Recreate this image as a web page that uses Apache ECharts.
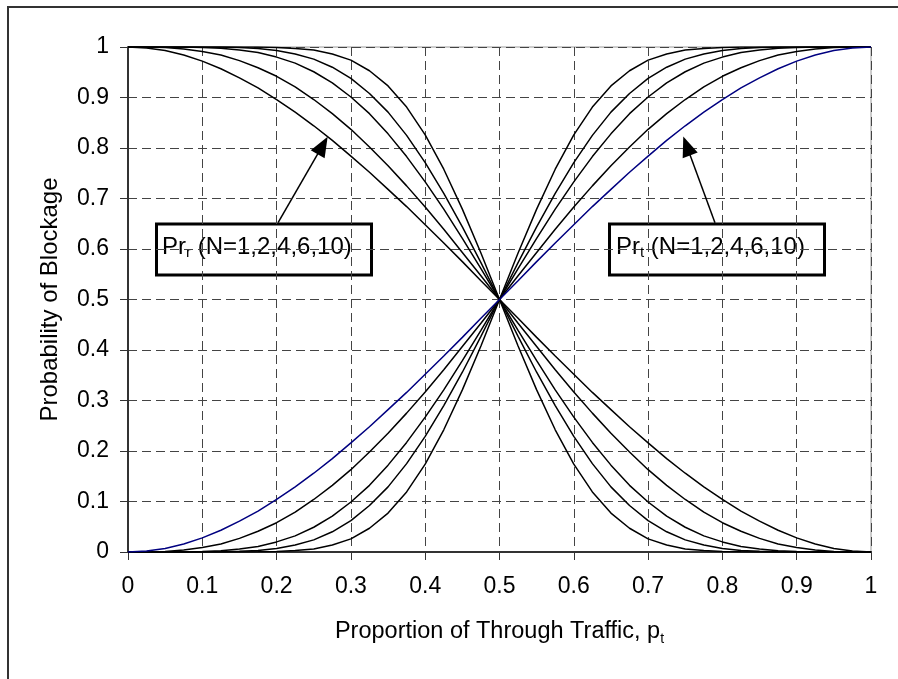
<!DOCTYPE html>
<html lang="en">
<head>
	<meta charset="UTF-8">
	<title>Probability of Blockage</title>
	<style>
		html, body { margin: 0; padding: 0; background: #fff; }
		#main { width: 898px; height: 679px; }
	</style>
	<script src="https://cdn.jsdelivr.net/npm/echarts@6/dist/echarts.min.js"></script>
</head>
<body>
	<div id="main"></div>
	<script>
		// proportion of through traffic p_t
		var xVals = [0, 0.025, 0.05, 0.075, 0.1, 0.125, 0.15, 0.175, 0.2, 0.225,
			0.25, 0.275, 0.3, 0.325, 0.35, 0.375, 0.4, 0.425, 0.45, 0.475,
			0.5, 0.525, 0.55, 0.575, 0.6, 0.625, 0.65, 0.675, 0.7, 0.725,
			0.75, 0.775, 0.8, 0.825, 0.85, 0.875, 0.9, 0.925, 0.95, 0.975, 1];

		// Pr_t, rising curves (N = 1, 2, 4, 6, 10)
		var prT1 = [0, 0.002, 0.007, 0.016, 0.028, 0.043, 0.061, 0.081, 0.104, 0.129,
			0.156, 0.185, 0.216, 0.248, 0.282, 0.316, 0.352, 0.388, 0.425, 0.463,
			0.5, 0.537, 0.575, 0.612, 0.648, 0.684, 0.718, 0.752, 0.784, 0.815,
			0.844, 0.871, 0.896, 0.919, 0.939, 0.957, 0.972, 0.984, 0.993, 0.998, 1];
		var prT2 = [0, 0.0002, 0.001, 0.004, 0.009, 0.016, 0.027, 0.041, 0.058, 0.079,
			0.104, 0.132, 0.163, 0.198, 0.235, 0.275, 0.317, 0.361, 0.407, 0.453,
			0.5, 0.547, 0.593, 0.639, 0.683, 0.725, 0.765, 0.802, 0.837, 0.868,
			0.896, 0.921, 0.942, 0.959, 0.973, 0.984, 0.991, 0.996, 0.999, 0.9998, 1];
		var prT4 = [0, 0, 0, 0.0002, 0.001, 0.0025, 0.006, 0.011, 0.020, 0.032,
			0.049, 0.071, 0.099, 0.132, 0.172, 0.217, 0.267, 0.321, 0.379, 0.439,
			0.5, 0.561, 0.621, 0.679, 0.733, 0.783, 0.828, 0.868, 0.901, 0.929,
			0.951, 0.968, 0.980, 0.989, 0.994, 0.9975, 0.999, 0.9998, 1, 1, 1];
		var prT6 = [0, 0, 0, 0, 0.0001, 0.0004, 0.0013, 0.003, 0.007, 0.014,
			0.024, 0.040, 0.062, 0.092, 0.129, 0.175, 0.229, 0.290, 0.356, 0.427,
			0.5, 0.573, 0.644, 0.710, 0.771, 0.825, 0.871, 0.908, 0.938, 0.960,
			0.976, 0.986, 0.993, 0.997, 0.999, 1, 1, 1, 1, 1, 1];
		var prT10 = [0, 0, 0, 0, 0, 0, 0, 0.0003, 0.001, 0.003,
			0.006, 0.014, 0.026, 0.047, 0.077, 0.119, 0.174, 0.242, 0.321, 0.408,
			0.5, 0.592, 0.679, 0.758, 0.826, 0.881, 0.923, 0.953, 0.974, 0.986,
			0.994, 0.997, 0.999, 1, 1, 1, 1, 1, 1, 1, 1];

		// Pr_r, falling curves (N = 1, 2, 4, 6, 10)
		var prR1 = [1, 0.998, 0.993, 0.984, 0.972, 0.957, 0.939, 0.919, 0.896, 0.871,
			0.844, 0.815, 0.784, 0.752, 0.718, 0.684, 0.648, 0.612, 0.575, 0.537,
			0.5, 0.463, 0.425, 0.388, 0.352, 0.316, 0.282, 0.248, 0.216, 0.185,
			0.156, 0.129, 0.104, 0.081, 0.061, 0.043, 0.028, 0.016, 0.007, 0.002, 0];
		var prR2 = [1, 0.9998, 0.999, 0.996, 0.991, 0.984, 0.973, 0.959, 0.942, 0.921,
			0.896, 0.868, 0.837, 0.802, 0.765, 0.725, 0.683, 0.639, 0.593, 0.547,
			0.5, 0.453, 0.407, 0.361, 0.317, 0.275, 0.235, 0.198, 0.163, 0.132,
			0.104, 0.079, 0.058, 0.041, 0.027, 0.016, 0.009, 0.004, 0.001, 0.0002, 0];
		var prR4 = [1, 1, 1, 0.9998, 0.999, 0.9975, 0.994, 0.989, 0.980, 0.968,
			0.951, 0.929, 0.901, 0.868, 0.828, 0.783, 0.733, 0.679, 0.621, 0.561,
			0.5, 0.439, 0.379, 0.321, 0.267, 0.217, 0.172, 0.132, 0.099, 0.071,
			0.049, 0.032, 0.020, 0.011, 0.006, 0.0025, 0.001, 0.0002, 0, 0, 0];
		var prR6 = [1, 1, 1, 1, 1, 1, 0.999, 0.997, 0.993, 0.986,
			0.976, 0.960, 0.938, 0.908, 0.871, 0.825, 0.771, 0.710, 0.644, 0.573,
			0.5, 0.427, 0.356, 0.290, 0.229, 0.175, 0.129, 0.092, 0.062, 0.040,
			0.024, 0.014, 0.007, 0.003, 0.0013, 0.0004, 0.0001, 0, 0, 0, 0];
		var prR10 = [1, 1, 1, 1, 1, 1, 1, 1, 0.999, 0.997,
			0.994, 0.986, 0.974, 0.953, 0.923, 0.881, 0.826, 0.758, 0.679, 0.592,
			0.5, 0.408, 0.321, 0.242, 0.174, 0.119, 0.077, 0.047, 0.026, 0.014,
			0.006, 0.003, 0.001, 0.0003, 0, 0, 0, 0, 0, 0, 0];

		// callout arrows [from, to] in data units
		var arrowR = [[0.202, 0.652], [0.262, 0.805]];
		var arrowT = [[0.790, 0.652], [0.752, 0.804]];

		var FONT = 'Arial, "Liberation Sans", sans-serif';

		function pairs(ys) {
			return xVals.map(function (x, i) { return [x, ys[i]]; });
		}

		function curve(name, ys, color) {
			return {
				name: name,
				type: 'line',
				data: pairs(ys),
				showSymbol: false,
				symbol: 'none',
				smooth: false,
				silent: true,
				lineStyle: { color: color, width: 1.5 },
				z: 3
			};
		}

		var myChart = echarts.init(document.getElementById('main'), null, { renderer: 'canvas' });

		var series = [
			curve('Pr_r N=1', prR1, '#000'),
			curve('Pr_r N=2', prR2, '#000'),
			curve('Pr_r N=4', prR4, '#000'),
			curve('Pr_r N=6', prR6, '#000'),
			curve('Pr_r N=10', prR10, '#000'),
			curve('Pr_t N=2', prT2, '#000'),
			curve('Pr_t N=4', prT4, '#000'),
			curve('Pr_t N=6', prT6, '#000'),
			curve('Pr_t N=10', prT10, '#000'),
			curve('Pr_t N=1', prT1, '#000080')
		];

		// callout arrows
		series[4].markLine = {
			silent: true,
			animation: false,
			symbol: ['none', 'triangle'],
			symbolSize: [16, 20],
			label: { show: false },
			lineStyle: { color: '#000', width: 1.5, type: 'solid' },
			data: [
				[{ coord: arrowR[0] }, { coord: arrowR[1] }],
				[{ coord: arrowT[0] }, { coord: arrowT[1] }]
			]
		};

		var option = {
			backgroundColor: '#fff',
			animation: false,
			grid: {
				left: 128, right: 27, top: 47, bottom: 127,
				show: true, borderColor: '#9a9a9a', borderWidth: 1
			},
			xAxis: {
				type: 'value',
				min: 0, max: 1, interval: 0.1,
				name: '{m|Proportion of Through Traffic, p}{s|t}',
				nameLocation: 'middle',
				nameGap: 66,
				nameTextStyle: {
					rich: {
						m: { fontFamily: FONT, fontSize: 23.5, color: '#000' },
						s: { fontFamily: FONT, fontSize: 14, color: '#000', padding: [14, 0, 0, 0] }
					}
				},
				axisLine: { show: true, onZero: false, lineStyle: { color: '#333', width: 2 } },
				axisTick: { show: true, inside: false, length: 8, lineStyle: { color: '#333', width: 1 } },
				axisLabel: { margin: 23, fontFamily: FONT, fontSize: 23, color: '#000' },
				splitLine: { show: true, lineStyle: { color: '#444', width: 1, type: [9, 5] } }
			},
			yAxis: {
				type: 'value',
				min: 0, max: 1, interval: 0.1,
				name: 'Probability of Blockage',
				nameLocation: 'middle',
				nameGap: 66,
				nameTextStyle: { fontFamily: FONT, fontSize: 24, color: '#000' },
				axisLine: { show: true, onZero: false, lineStyle: { color: '#333', width: 2 } },
				axisTick: { show: true, inside: false, length: 8, lineStyle: { color: '#333', width: 1 } },
				axisLabel: { margin: 19, fontFamily: FONT, fontSize: 23, color: '#000' },
				splitLine: { show: true, lineStyle: { color: '#444', width: 1, type: [9, 5] } }
			},
			graphic: [
				{
					// outer chart frame, cropped on the right and bottom
					type: 'rect',
					shape: { x: 8, y: 7, width: 1000, height: 1000 },
					style: { fill: 'none', stroke: '#333', lineWidth: 2 },
					silent: true, z: 10
				},
				{
					type: 'group', z: 20,
					children: [
						{
							type: 'rect',
							shape: { x: 156.5, y: 224, width: 215, height: 51 },
							style: { fill: '#fff', stroke: '#000', lineWidth: 3 }
						},
						{
							type: 'text',
							style: {
								x: 162, y: 247,
								text: '{m|Pr}{s|r}{m| (N=1,2,4,6,10)}',
								verticalAlign: 'middle',
								rich: {
									m: { fontFamily: FONT, fontSize: 24, fill: '#000' },
									s: { fontFamily: FONT, fontSize: 15, fill: '#000', padding: [12, 0, 0, 0] }
								}
							}
						}
					]
				},
				{
					type: 'group', z: 20,
					children: [
						{
							type: 'rect',
							shape: { x: 609.5, y: 224, width: 215, height: 51 },
							style: { fill: '#fff', stroke: '#000', lineWidth: 3 }
						},
						{
							type: 'text',
							style: {
								x: 616, y: 247,
								text: '{m|Pr}{s|t}{m| (N=1,2,4,6,10)}',
								verticalAlign: 'middle',
								rich: {
									m: { fontFamily: FONT, fontSize: 24, fill: '#000' },
									s: { fontFamily: FONT, fontSize: 15, fill: '#000', padding: [12, 0, 0, 0] }
								}
							}
						}
					]
				}
			],
			series: series
		};

		myChart.setOption(option);
	</script>
</body>
</html>
